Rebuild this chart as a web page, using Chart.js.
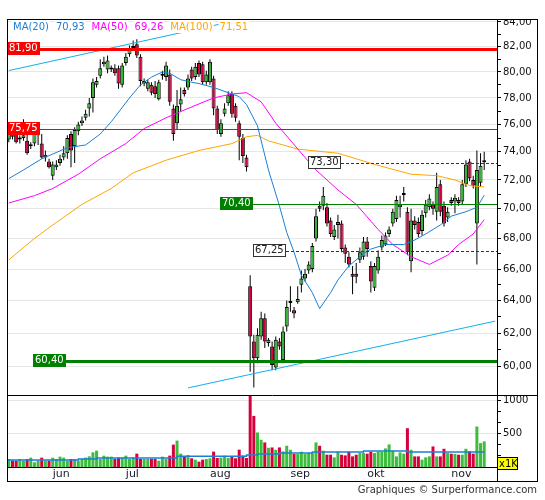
<!DOCTYPE html>
<html>
<head>
<meta charset="utf-8">
<script src="https://cdn.jsdelivr.net/npm/chart.js@4.4.1/dist/chart.umd.min.js"></script>
<style>
  html, body { margin: 0; padding: 0; background: #fff; }
  #wrap { position: relative; width: 545px; height: 500px; }
  #footer { position: absolute; right: 8px; top: 484px; font: 10px 'DejaVu Sans', sans-serif; color: #333; white-space: nowrap; }
</style>
</head>
<body>
<div id="wrap">
  <canvas id="chart" width="545" height="500"></canvas>
  <div id="footer">Graphiques © Surperformance.com</div>
</div>
<script>
// slots on the x axis (last ones stay empty, as in the original)
const SLOTS = 134;
const monthLabels = ['jun', 'jul', 'aug', 'sep', 'okt', 'nov'];
const monthStarts = [12, 32, 55, 77, 98, 121];

const opens = [
  74.9, 75.3, 75.3, 74.9, 75.0, 74.8, 74.4, 74.6, 75.2, 74.6,
  73.6, 73.3, 72.3, 72.9, 73.2, 73.6, 73.9, 75.3, 74.4, 75.5,
  76.1, 76.5, 77.2, 78.0, 79.0, 79.7, 80.6, 80.2, 80.2, 80.3,
  80.3, 79.0, 80.7, 81.4, 81.9, 82.2, 81.2, 79.1, 78.7, 79.0,
  78.9, 77.9, 79.7, 79.6, 79.8, 77.2, 76.1, 77.5, 78.6, 78.8,
  80.2, 79.6, 80.7, 80.6, 79.2, 79.2, 79.5, 77.2, 75.3, 76.8,
  77.6, 78.3, 77.4, 76.1, 75.0, 73.6, 64.9, 61.5, 60.5, 61.8,
  62.9, 61.4, 61.2, 59.95, 61.5, 60.4, 62.4, 63.85, 63.4, 63.9,
  65.0, 65.4, 65.9, 66.0, 68.0, 70.2, 70.2, 70.1, 69.2, 68.1,
  68.9, 69.0, 67.4, 66.8, 65.7, 65.7, 66.6, 66.8, 67.8, 66.2,
  64.8, 65.9, 67.4, 67.6, 68.3, 69.0, 69.3, 70.1, 70.95, 69.8,
  66.5, 69.2, 69.1, 68.5, 69.7, 70.1, 70.3, 69.8, 71.7, 70.2,
  69.4, 70.6, 70.5, 70.6, 70.5, 71.7, 73.3, 72.0, 69.0, 71.8,
  73.25
];
const highs = [
  75.9, 75.6, 75.7, 75.2, 76.4, 75.3, 74.7, 75.8, 75.8, 75.3,
  74.1, 73.5, 73.3, 73.4, 73.8, 74.4, 75.2, 75.5, 75.8, 76.2,
  76.6, 77.1, 78.0, 79.5, 79.6, 81.0, 81.2, 81.3, 80.5, 80.6,
  80.5, 80.7, 81.5, 82.1, 82.5, 82.6, 81.4, 79.5, 79.4, 79.2,
  79.3, 79.4, 80.1, 80.8, 80.2, 77.5, 78.6, 78.8, 78.8, 79.8,
  80.4, 80.7, 80.9, 80.8, 80.1, 81.0, 79.7, 77.4, 76.4, 77.6,
  78.5, 78.5, 77.6, 76.3, 75.3, 73.8, 65.6, 61.9, 62.3, 63.3,
  63.2, 61.7, 61.5, 61.8, 61.7, 62.4, 64.0, 64.9, 63.6, 64.9,
  65.9, 66.0, 66.5, 67.7, 70.0, 70.5, 71.5, 70.4, 69.4, 68.9,
  69.6, 69.2, 67.6, 67.1, 66.2, 66.4, 67.4, 68.1, 68.1, 66.5,
  66.4, 67.2, 68.2, 68.4, 68.8, 70.0, 70.9, 70.9, 71.5, 70.1,
  70.0, 69.5, 69.4, 69.9, 70.6, 71.0, 70.5, 72.5, 72.0, 70.5,
  70.1, 70.8, 71.0, 70.8, 72.0, 73.4, 73.5, 72.3, 74.1, 73.9,
  74.0
];
const lows = [
  74.7, 74.9, 74.6, 74.6, 74.8, 73.8, 74.2, 74.4, 74.5, 73.5,
  73.3, 72.8, 72.0, 72.7, 73.0, 73.4, 73.5, 72.9, 73.2, 75.2,
  75.9, 76.3, 76.6, 76.9, 78.8, 79.5, 80.4, 79.9, 80.0, 79.7,
  78.7, 78.8, 80.5, 81.2, 81.7, 81.1, 78.9, 78.9, 78.5, 78.2,
  78.0, 77.8, 79.4, 79.3, 77.4, 74.8, 75.6, 77.0, 78.1, 78.6,
  79.3, 79.4, 79.6, 79.0, 79.0, 79.0, 76.7, 75.3, 75.1, 76.6,
  77.4, 76.5, 76.2, 73.4, 73.2, 72.6, 59.7, 58.8, 60.2, 61.6,
  61.1, 61.2, 59.8, 59.8, 61.0, 60.2, 62.1, 63.3, 62.9, 63.8,
  64.5, 65.2, 65.7, 65.8, 67.8, 69.8, 69.9, 68.8, 68.1, 67.9,
  68.0, 67.1, 66.4, 66.1, 64.4, 65.1, 66.4, 66.6, 66.8, 64.5,
  64.6, 65.7, 67.2, 67.5, 68.1, 68.8, 69.1, 69.4, 70.5, 66.9,
  65.8, 68.6, 68.1, 68.2, 69.4, 69.9, 69.6, 69.2, 69.5, 68.8,
  69.1, 70.2, 69.7, 70.2, 70.3, 71.5, 71.9, 71.4, 66.3, 71.5,
  72.7
];
const closes = [
  75.4, 75.1, 74.7, 75.0, 75.2, 73.9, 74.5, 75.5, 75.3, 73.6,
  73.8, 72.9, 73.1, 73.1, 73.5, 73.9, 75.0, 74.1, 75.6, 76.0,
  76.3, 76.8, 77.6, 79.2, 79.3, 80.3, 80.8, 80.9, 80.3, 79.9,
  79.1, 80.5, 81.2, 81.8, 82.0, 81.3, 79.3, 79.3, 79.2, 78.4,
  78.3, 79.2, 79.8, 80.5, 77.7, 75.3, 77.4, 77.9, 78.3, 79.5,
  79.5, 80.4, 79.8, 79.2, 79.8, 80.8, 77.2, 75.6, 76.1, 77.2,
  78.2, 76.8, 76.5, 75.1, 73.7, 72.9, 61.8, 60.5, 61.9, 62.9,
  61.5, 61.6, 60.1, 61.6, 61.2, 62.1, 63.6, 63.95, 63.2, 64.1,
  65.4, 65.7, 66.3, 67.5, 69.5, 70.0, 70.9, 69.0, 68.3, 68.6,
  69.1, 67.3, 67.0, 66.3, 65.5, 65.5, 67.1, 67.8, 67.3, 65.2,
  66.2, 66.8, 67.9, 68.2, 68.6, 69.8, 70.6, 70.3, 71.05, 67.1,
  69.2, 68.9, 68.3, 69.6, 70.3, 70.7, 70.0, 71.5, 69.8, 69.0,
  69.8, 70.4, 70.75, 70.4, 71.7, 73.1, 72.1, 71.6, 72.7, 73.0,
  73.35
];
// volume in thousands
const volumes = [
  120, 95, 95, 120, 95, 120, 140, 70, 95, 140,
  95, 95, 140, 120, 155, 140, 95, 120, 120, 95,
  120, 140, 160, 220, 245, 120, 170, 155, 155, 120,
  140, 140, 170, 120, 140, 200, 120, 120, 120, 120,
  120, 95, 155, 120, 170, 335, 395, 200, 155, 180,
  130, 110, 80, 110, 120, 130, 230, 135, 140, 170,
  135, 150, 130, 260, 170, 135, 1100, 765, 517, 408,
  368, 288, 293, 258, 293, 234, 318, 258, 194, 194,
  229, 194, 209, 209, 368, 318, 244, 184, 184, 144,
  229, 184, 174, 229, 159, 184, 209, 209, 199, 229,
  209, 229, 229, 278, 338, 244, 159, 219, 200, 581,
  258, 159, 159, 109, 144, 159, 308, 159, 159, 273,
  209, 199, 194, 184, 184, 273, 234, 200, 606, 358,
  383
];
// volume average, [slot, value]
const volAvgPts = [[0, 120], [19, 105], [24, 120], [46, 135], [65, 160], [68, 180], [74, 194], [83, 209], [97, 224], [109, 239], [127, 224], [130, 224]];

// moving averages, [slot, value]
const ma20Pts = [[0, 72.1], [4, 72.7], [9, 73.5], [16, 74.3], [21, 74.5], [25, 75.3], [28, 76.2], [33, 78.0], [36, 79.0], [39, 79.6], [42, 80.0], [44, 79.9], [47, 79.4], [50, 79.2], [52, 79.1], [56, 78.8], [60, 78.4], [63, 78.1], [65, 77.5], [68, 75.9], [71, 72.7], [74, 70.2], [76, 68.4], [78, 67.1], [80, 65.6], [83, 64.5], [85, 63.5], [88, 64.5], [90, 65.3], [93, 66.2], [97, 67.0], [99, 67.3], [103, 67.6], [108, 67.6], [111, 67.9], [114, 68.3], [118, 68.9], [121, 69.5], [125, 69.8], [128, 70.1], [130, 70.93]];
const ma50Pts = [[0, 70.4], [7, 70.9], [12, 71.4], [19, 72.4], [25, 73.5], [32, 74.6], [37, 75.7], [43, 76.5], [49, 77.2], [56, 78.0], [61, 78.3], [65, 78.4], [69, 77.7], [73, 76.1], [80, 73.9], [84, 72.7], [90, 71.3], [95, 70.3], [101, 68.6], [105, 67.6], [110, 66.8], [115, 66.3], [120, 66.9], [123, 67.6], [127, 68.3], [130, 69.26]];
const ma100Pts = [[0, 66.6], [7, 68.0], [12, 68.9], [20, 70.3], [28, 71.4], [34, 72.5], [43, 73.4], [52, 74.1], [61, 74.6], [65, 75.1], [68, 75.2], [71, 74.8], [79, 74.2], [90, 73.9], [100, 73.1], [110, 72.4], [117, 72.3], [122, 72.0], [126, 71.6], [130, 71.51]];
const maPeriods = [20, 50, 100];
const maLast = [70.93, 69.26, 71.51];

// trend lines, [slot, value]
const trendTop = [[0, 80.11], [64, 84.24]];
const trendBottom = [[49, 58.77], [133, 62.73]];

// horizontal levels
const levelValues = [81.90, 75.75, 70.40, 60.40];
const dashedLevels = [73.30, 67.25];

const priceTicks = [60, 61, 62, 63, 64, 65, 66, 67, 68, 69, 70, 71, 72, 73, 74, 75, 76, 77, 78, 79, 80, 81, 82, 83, 84];
const volumeTicks = [166.7, 333.3, 500, 666.7, 833.3, 1000];
const volumeLabelTicks = [500, 1000];

const GREEN = '#36b436';
const RED = '#d2003c';
const MA_COLORS = ['#1b7fd6', '#ff00ff', '#ffa500'];
const TREND = '#12b0ee';
const GRID = '#e6e6e6';

const fmt = (v) => v.toFixed(2).replace('.', ',');

function series(points) {
  const out = new Array(SLOTS).fill(null);
  points.forEach(([i, v]) => { out[i] = v; });
  return out;
}

const up = opens.map((o, i) => closes[i] >= o);
const labels = Array.from({ length: SLOTS }, (_, i) => String(i));

const lineDs = (label, pts, color, order, extra = {}) => ({
  type: 'line', label, data: series(pts), yAxisID: 'y', borderColor: color, borderWidth: 1,
  pointRadius: 0, spanGaps: true, tension: 0, order, ...extra,
});

const levelStyle = [
  { color: '#ff0000', width: 3, boxX: 7 },
  { color: '#ff0000', width: 1, boxX: 7 },
  { color: '#008000', width: 1, boxX: 220 },
  { color: '#008000', width: 3, boxX: 33 },
];
const dashedBoxX = [308, 253];

const decor = {
  id: 'decor',
  afterDatasetsDraw(chart) {
    const { ctx, chartArea: area } = chart;
    const y = chart.scales.y;
    ctx.save();
    ctx.font = '10px "DejaVu Sans"';
    ctx.textBaseline = 'middle';
    ctx.textAlign = 'left';

    dashedLevels.forEach((value, k) => {
      const py = Math.round(y.getPixelForValue(value));
      const x0 = dashedBoxX[k];
      const w = Math.ceil(ctx.measureText(fmt(value)).width) + 4;
      ctx.strokeStyle = '#333';
      ctx.lineWidth = 1;
      ctx.setLineDash([3, 2]);
      ctx.beginPath();
      ctx.moveTo(x0 + w, py + 1.5);
      ctx.lineTo(area.right, py + 1.5);
      ctx.stroke();
      ctx.setLineDash([]);
      ctx.fillStyle = '#fff';
      ctx.fillRect(x0, py - 6, w, 13);
      ctx.strokeRect(x0 + 0.5, py - 5.5, w - 1, 12);
      ctx.fillStyle = '#222';
      ctx.fillText(fmt(value), x0 + 2, py + 0.5);
    });

    levelValues.forEach((value, k) => {
      const s = levelStyle[k];
      const py = Math.round(y.getPixelForValue(value));
      const w = Math.ceil(ctx.measureText(fmt(value)).width) + 4;
      ctx.fillStyle = s.color;
      ctx.fillRect(s.boxX, s.width > 1 ? py : py + 1, area.right - s.boxX, s.width);
      ctx.fillRect(s.boxX, py - 6, w, 13);
      ctx.fillStyle = '#fff';
      ctx.fillText(fmt(value), s.boxX + 2, py + 0.5);
    });

    // MA legend
    let lx = 13;
    maPeriods.forEach((p, k) => {
      [`MA(${p})`, fmt(maLast[k])].forEach((t) => {
        const w = ctx.measureText(t).width;
        ctx.fillStyle = '#fff';
        ctx.fillRect(lx - 1, 20, w + 2, 13);
        ctx.fillStyle = MA_COLORS[k];
        ctx.fillText(t, lx, 27);
        lx += w + 7;
      });
    });
    ctx.restore();
  },
  afterDraw(chart) {
    const { ctx, chartArea: area } = chart;
    const yv = chart.scales.yv;
    ctx.save();
    // hide what sticks out above the frame
    ctx.fillStyle = '#fff';
    ctx.fillRect(area.right + 1, 0, 545 - area.right, 19);
    ctx.strokeStyle = '#000';
    ctx.lineWidth = 1;
    ctx.strokeRect(7.5, 19.5, 530, 462);
    ctx.beginPath();
    ctx.moveTo(7, Math.round(yv.top) + 0.5);
    ctx.lineTo(538, Math.round(yv.top) + 0.5);
    ctx.moveTo(area.right + 0.5, 19);
    ctx.lineTo(area.right + 0.5, 482);
    ctx.stroke();
    // volume unit tag
    ctx.fillStyle = '#ffff00';
    ctx.fillRect(area.right, 457, 21, 13);
    ctx.strokeRect(area.right + 0.5, 457.5, 20, 12);
    ctx.fillStyle = '#000';
    ctx.font = '10px "DejaVu Sans"';
    ctx.textBaseline = 'middle';
    ctx.fillText('x1K', area.right + 2, 464);
    ctx.restore();
  },
};

Chart.defaults.font.family = "'DejaVu Sans', sans-serif";
Chart.defaults.color = '#222';

new Chart(document.getElementById('chart'), {
  data: {
    labels,
    datasets: [
      lineDs('MA20', ma20Pts, MA_COLORS[0], 0),
      lineDs('MA50', ma50Pts, MA_COLORS[1], 0),
      lineDs('MA100', ma100Pts, MA_COLORS[2], 0),
      lineDs('trend1', trendTop, TREND, 0),
      lineDs('trend2', trendBottom, TREND, 0),
      {
        type: 'bar', label: 'body', yAxisID: 'y', order: 1, grouped: false,
        data: opens.map((o, i) => [o, closes[i]]),
        backgroundColor: up.map((u) => (u ? GREEN : RED)),
        borderColor: '#000', borderWidth: 1, borderSkipped: false,
        barThickness: 4, minBarLength: 2, inflateAmount: 0,
      },
      {
        type: 'bar', label: 'wick', yAxisID: 'y', order: 2, grouped: false,
        data: lows.map((l, i) => [l, highs[i]]),
        backgroundColor: '#000', borderWidth: 0, barThickness: 1, inflateAmount: 0,
      },
      {
        type: 'bar', label: 'volume', yAxisID: 'yv', order: 3, grouped: false,
        data: volumes,
        backgroundColor: up.map((u) => (u ? '#3dbd3d' : '#d6003d')),
        borderWidth: 0, barThickness: 3, inflateAmount: 0,
      },
      {
        type: 'line', label: 'volAvg', yAxisID: 'yv', order: 0,
        data: series(volAvgPts), spanGaps: true, stepped: 'after',
        borderColor: '#1b7fd6', borderWidth: 1.5, pointRadius: 0,
      },
    ],
  },
  options: {
    responsive: false,
    animation: false,
    devicePixelRatio: 1,
    layout: { padding: { left: 7, top: 19, right: 7, bottom: 18 } },
    plugins: { legend: { display: false }, tooltip: { enabled: false } },
    scales: {
      x: {
        type: 'category',
        offset: true,
        grid: {
          offset: false,
          drawTicks: false,
          color: (ctx) => (monthStarts.includes(ctx.index) ? GRID : 'rgba(0,0,0,0)'),
        },
        border: { display: true, color: '#000' },
        ticks: {
          autoSkip: false, maxRotation: 0, minRotation: 0, align: 'start', padding: 1,
          font: { size: 11 }, color: '#1a1a2a',
          callback: (v, i) => { const k = monthStarts.indexOf(i); return k >= 0 ? monthLabels[k] : null; },
        },
        afterFit: (s) => { s.height = 15; },
      },
      y: {
        type: 'logarithmic',
        position: 'right',
        stack: 'panels',
        stackWeight: 376,
        weight: 1,
        min: 58.366,
        max: 84.246,
        afterBuildTicks: (s) => { s.ticks = priceTicks.map((v) => ({ value: v })); },
        afterFit: (s) => { s.width = 41; },
        grid: {
          color: (ctx) => (ctx.tick && ctx.tick.value % 2 === 0 ? GRID : 'rgba(0,0,0,0)'),
          tickColor: '#000', tickLength: 4,
        },
        border: { display: true, color: '#000' },
        ticks: {
          autoSkip: false, padding: 2, font: { size: 10 }, color: '#111',
          callback: (v) => (v % 2 === 0 ? fmt(v) : ''),
        },
      },
      yv: {
        type: 'linear',
        position: 'right',
        stack: 'panels',
        stackWeight: 72,
        weight: 2,
        min: 0,
        max: 1078,
        afterBuildTicks: (s) => { s.ticks = volumeTicks.map((v) => ({ value: v })); },
        afterFit: (s) => { s.width = 41; },
        grid: {
          color: (ctx) => (ctx.tick && volumeLabelTicks.includes(ctx.tick.value) ? GRID : 'rgba(0,0,0,0)'),
          tickColor: '#000', tickLength: 4,
        },
        border: { display: true, color: '#000' },
        ticks: {
          autoSkip: false, padding: 2, font: { size: 10 }, color: '#111',
          callback: (v) => (volumeLabelTicks.includes(v) ? String(v) : ''),
        },
      },
    },
  },
  plugins: [decor],
});
</script>
</body>
</html>
